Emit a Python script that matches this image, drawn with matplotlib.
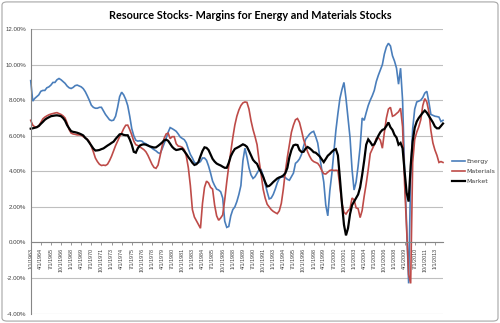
import matplotlib
matplotlib.use("Agg")
import matplotlib.pyplot as plt
from matplotlib.patches import FancyBboxPatch
import pandas as pd

# Quarterly observations, 1963Q1 .. 2014Q1 (profit margin, %)
quarters = pd.date_range("1963-01-01", periods=205, freq="QS")

energy = [
    9.1, 7.95, 8.1, 8.2,   8.3, 8.5, 8.55, 8.55,   8.7, 8.75, 8.85, 9.0,
    9.0, 9.15, 9.22, 9.15,   9.05, 8.95, 8.8, 8.7,   8.66, 8.72, 8.82, 8.85,
    8.8, 8.75, 8.65, 8.48,   8.25, 8.0, 7.72, 7.6,   7.55, 7.55, 7.6, 7.6,
    7.4, 7.2, 7.05, 6.9,   6.85, 6.88, 7.1, 7.6,   8.2, 8.45, 8.3, 8.05,
    7.7, 7.1, 6.4, 6.0,   5.75, 5.7, 5.72, 5.7,   5.6, 5.55, 5.48, 5.4,
    5.3, 5.22, 5.15, 5.05,   5.0, 5.25, 5.55, 5.85,   6.2, 6.46, 6.4, 6.33,
    6.25, 6.1, 5.93, 5.85,   5.78, 5.6, 5.25, 4.95,   4.75, 4.5, 4.45, 4.48,
    4.55, 4.75, 4.75, 4.62,   4.3, 3.9, 3.45, 3.2,   3.0, 2.95, 2.85, 2.5,
    1.2, 0.85, 0.9, 1.5,   1.85, 2.0, 2.3, 2.7,   3.2, 4.6, 5.3, 4.8,
    4.2, 3.8, 3.6, 3.7,   3.9, 4.1, 4.1, 3.75,   3.3, 2.85, 2.45, 2.5,
    2.7, 3.0, 3.35, 3.6,   3.7, 3.68, 3.65, 3.55,   3.5, 3.7, 3.9, 4.45,
    4.55, 4.7, 4.95, 5.4,   5.8, 5.95, 6.1, 6.2,   6.25, 5.95, 5.6, 4.85,
    4.1, 3.4, 2.1, 1.5,   2.9, 3.87, 5.1, 6.3,   7.25, 8.1, 8.6, 9.0,
    8.1, 7.0, 5.9, 4.1,   2.95, 3.4, 4.3, 5.37,   7.0, 6.87, 7.3, 7.7,
    8.0, 8.25, 8.55, 9.05,   9.4, 9.7, 10.0, 10.6,   11.0, 11.2, 11.05, 10.5,
    10.2, 9.8, 8.9, 9.8,   8.0, 4.0, 1.0, -2.3,   3.8, 6.4, 7.5, 7.9,
    7.95, 8.0, 8.15, 8.4,   8.5, 7.9, 7.2, 7.15,   7.1, 7.08, 7.05, 6.8,
    6.87,
]

materials = [
    6.87, 6.6, 6.5, 6.5,   6.55, 6.75, 6.95, 7.05,   7.12, 7.18, 7.22, 7.25,
    7.28, 7.3, 7.25, 7.2,   7.12, 7.0, 6.72, 6.35,   6.15, 6.1, 6.08, 6.05,
    6.05, 6.03, 5.95, 5.88,   5.8, 5.67, 5.4, 5.1,   4.75, 4.55, 4.4, 4.33,
    4.35, 4.33, 4.4, 4.6,   4.85, 5.15, 5.45, 5.7,   5.95, 6.15, 6.4, 6.59,
    6.6, 6.35, 6.05, 5.7,   5.5, 5.45, 5.38, 5.3,   5.22, 5.1, 4.9, 4.65,
    4.4, 4.22, 4.17, 4.35,   4.85, 5.4, 5.85, 6.1,   6.15, 5.84, 5.95, 5.95,
    5.55, 5.42, 5.4, 5.35,   5.22, 4.85, 4.2, 3.2,   1.85, 1.43, 1.22, 1.0,
    0.8, 2.2, 3.1, 3.45,   3.35, 3.1, 3.0, 2.1,   1.5, 1.25, 1.38, 1.55,
    2.4, 3.4, 4.3, 5.1,   5.9, 6.6, 7.1, 7.45,   7.7, 7.85, 7.9, 7.88,
    7.5, 6.85, 6.35, 5.95,   5.5, 4.6, 3.85, 3.0,   2.5, 2.15, 2.0, 1.85,
    1.75, 1.68, 1.62, 1.78,   2.2, 3.0, 4.0, 4.8,   5.5, 6.2, 6.6, 6.9,
    6.97, 6.75, 6.3, 5.8,   5.45, 5.1, 4.85, 4.65,   4.55, 4.5, 4.45, 4.3,
    4.05, 3.87, 3.85, 3.95,   4.05, 4.08, 4.05, 4.06,   4.05, 3.1, 2.2, 1.7,
    1.6, 1.78, 1.9, 2.5,   2.4, 1.95, 1.9, 1.4,   1.8, 2.6, 3.3, 4.1,
    5.0, 5.25, 5.5, 5.85,   5.9, 5.75, 5.3, 6.2,   7.0, 7.5, 7.6, 7.1,
    7.15, 7.25, 7.35, 7.55,   6.5, 3.3, 0.7, -1.8,   -2.3, 4.5, 5.8, 6.2,
    6.5, 6.9, 7.7, 8.09,   7.9, 7.35, 6.3, 5.6,   5.2, 4.9, 4.5, 4.55,
    4.5,
]

market = [
    6.4, 6.42, 6.45, 6.48,   6.55, 6.67, 6.78, 6.9,   6.98, 7.04, 7.1, 7.12,
    7.14, 7.15, 7.13, 7.1,   7.0, 6.85, 6.6, 6.42,   6.26, 6.22, 6.2, 6.17,
    6.13, 6.08, 6.02, 5.88,   5.78, 5.62, 5.45, 5.28,   5.17, 5.18, 5.2, 5.25,
    5.29, 5.37, 5.45, 5.52,   5.6, 5.67, 5.82, 5.95,   6.08, 6.1, 6.05, 6.03,
    6.03, 5.8, 5.5, 5.1,   5.05, 5.3, 5.45, 5.5,   5.52, 5.5, 5.45, 5.4,
    5.37, 5.34, 5.35, 5.43,   5.52, 5.62, 5.74, 5.78,   5.72, 5.55, 5.38, 5.27,
    5.2, 5.22, 5.25, 5.27,   5.13, 4.98, 4.8, 4.65,   4.48, 4.36, 4.4, 4.53,
    4.85, 5.15, 5.35, 5.32,   5.2, 4.95, 4.7, 4.55,   4.44, 4.38, 4.33, 4.26,
    4.2, 4.2, 4.48, 4.85,   5.08, 5.26, 5.32, 5.38,   5.45, 5.52, 5.47, 5.38,
    5.15, 4.9, 4.65, 4.52,   4.42, 4.15, 3.95, 3.7,   3.4, 3.15, 3.18, 3.28,
    3.4, 3.5, 3.6, 3.66,   3.7, 3.77, 3.9, 4.2,   4.8, 5.2, 5.46, 5.5,
    5.48, 5.2, 5.09, 5.1,   5.28, 5.37, 5.3, 5.2,   5.08, 5.05, 4.95, 4.84,
    4.68, 4.52, 4.7, 4.88,   4.98, 5.1, 5.2, 5.25,   4.9, 3.6, 2.2, 1.0,
    0.4, 0.8, 1.6, 2.1,   2.3, 2.5, 2.7, 3.1,   3.8, 4.6, 5.5, 5.8,
    5.65, 5.47, 5.52, 5.75,   6.0, 6.2, 6.33, 6.38,   6.55, 6.75, 6.48, 6.33,
    6.05, 5.9, 5.5, 5.6,   5.3, 4.0, 2.8, 2.3,   4.3, 5.7, 6.45, 6.8,
    7.0, 7.15, 7.3, 7.42,   7.3, 7.12, 6.95, 6.75,   6.52, 6.42, 6.42, 6.55,
    6.69,
]

series_names = ["Energy", "Materials", "Market"]
series_colors = ["#4a7ebb", "#be4b48", "#000000"]
series_widths = [1.2, 1.2, 1.6]

title = "Resource Stocks- Margins for Energy and Materials Stocks"
y_ticks = [-4, -2, 0, 2, 4, 6, 8, 10, 12]
label_step = 5

fig = plt.figure(figsize=(5.0, 3.23), dpi=100)
fig.patch.set_facecolor("white")

# chart-area frame
frame = FancyBboxPatch((0.004, 0.006), 0.992, 0.988, boxstyle="round,pad=0,rounding_size=0.01",
                       transform=fig.transFigure, fill=False, edgecolor="#a6a6a6", linewidth=0.8)
fig.patches.append(frame)

ax = fig.add_axes([0.0614, 0.029, 0.8246, 0.881])
x = list(range(len(quarters)))

# category axis crosses the value axis at zero
for s in ["top", "right"]:
    ax.spines[s].set_visible(False)
ax.spines["bottom"].set_position(("data", 0))
ax.spines["bottom"].set_color("#868686")
ax.spines["bottom"].set_linewidth(0.8)
ax.spines["left"].set_color("#868686")
ax.spines["left"].set_linewidth(0.8)

for vals, name, col, lw in zip([energy, materials, market], series_names, series_colors, series_widths):
    ax.plot(x, vals, color=col, lw=lw, label=name, solid_joinstyle="miter", clip_on=False)

ax.set_xlim(0, len(quarters) - 1)
ax.set_ylim(-4, 12)
ax.set_yticks(y_ticks)
ax.set_yticklabels([f"{v:.2f}%" for v in y_ticks], fontsize=4.4, color="#404040",
                   family="Liberation Sans")
ax.yaxis.grid(True, color="#bfbfbf", lw=0.8)
ax.set_axisbelow(True)
ax.tick_params(axis="y", length=0, pad=3)

tick_pos = x[::label_step]
tick_lab = [f"{d.month}/{d.day}/{d.year}" for d in quarters[::label_step]]
ax.set_xticks(tick_pos)
ax.set_xticklabels(tick_lab, rotation=90, fontsize=3.9, color="#404040",
                   family=["Liberation Sans Narrow", "Liberation Sans"])
ax.tick_params(axis="x", length=2.5, width=0.6, color="#868686", pad=1.5, direction="out")

fig.text(0.5, 0.951, title, ha="center", va="center", fontsize=7.8, fontweight="bold",
         family="Lato", color="#000000")

leg = ax.legend(loc="center left", bbox_to_anchor=(1.021, 0.5), frameon=False,
                fontsize=4.5, handlelength=2.1, handletextpad=0.25, labelspacing=0.7,
                borderaxespad=0, borderpad=0)
for t in leg.get_texts():
    t.set_color("#404040")

fig.savefig("out.png", dpi=100, facecolor="white")
